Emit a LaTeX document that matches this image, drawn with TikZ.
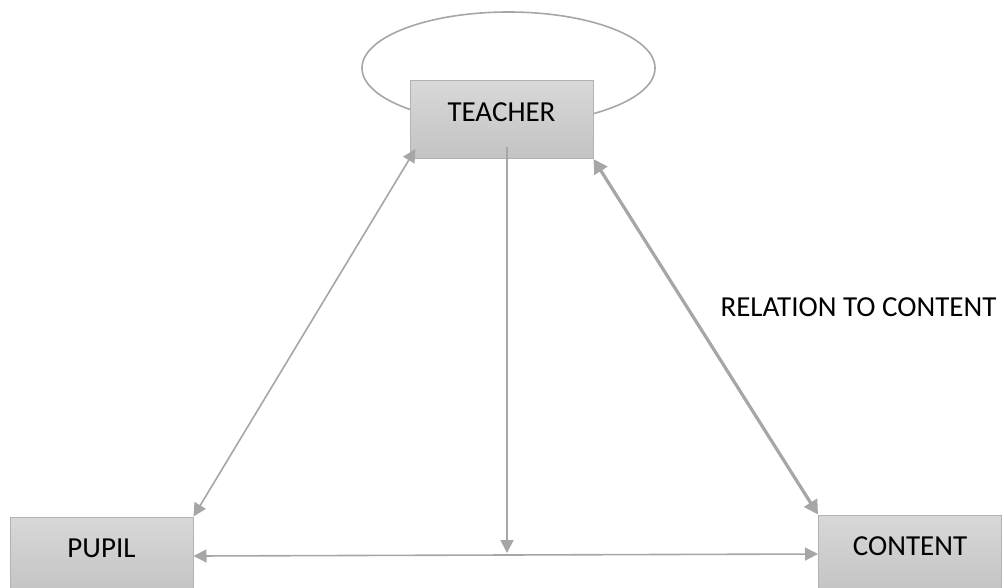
\documentclass[tikz,border=0pt]{standalone}
\usepackage{fontspec}
\setmainfont{Carlito}
\usetikzlibrary{arrows.meta,calc}
\definecolor{lgray}{HTML}{A6A6A6}
\definecolor{bordergray}{HTML}{B2B2B2}
\definecolor{boxtop}{HTML}{D8D8D8}
\definecolor{boxbot}{HTML}{C3C3C3}
\tikzset{
  box/.style={draw=bordergray, line width=1pt, top color=boxtop, bottom color=boxbot,
    minimum width=183pt, minimum height=78pt, inner sep=0pt,
    font=\fontsize{29}{31}\selectfont, text height=19pt, text depth=16pt},
  conn/.style={draw=lgray, line width=1.6pt,
    {Triangle[width=13pt,length=13pt,fill=lgray]}-{Triangle[width=13pt,length=13pt,fill=lgray]}},
  thickconn/.style={draw=lgray, line width=3.2pt,
    {Triangle[width=15pt,length=14pt,fill=lgray]}-{Triangle[width=15pt,length=14pt,fill=lgray]}},
  oneway/.style={draw=lgray, line width=1.6pt, -{Triangle[width=13pt,length=13pt,fill=lgray]}},
  lbl/.style={font=\fontsize{29}{31}\selectfont, inner sep=0pt}
}
\begin{document}
\begin{tikzpicture}[x=1pt,y=-1pt]
\useasboundingbox (0,0) rectangle (1004,587);
% self loop ellipse
\draw[lgray, line width=1.6pt] (508.5,68) ellipse [x radius=146.5, y radius=56];
% boxes
\node[box] (teacher) at (501.5,119.5) {TEACHER};
\node[box] (pupil) at (101.5,556) {PUPIL};
\node[box] (content) at (910,554) {CONTENT};
% connectors
\draw[conn] (pupil.north east) -- ($(teacher.south west)+(6,-10)$);
\draw[thickconn] (teacher.south east) -- (content.north west);
\draw[conn] (pupil.east) -- (content.west);
\coordinate (vtop) at (507,147);
\coordinate (vbot) at (507,553);
\draw[oneway] (vtop) -- (vbot);
% label
\node[lbl] (rel) at (858.5,307.5) {RELATION TO CONTENT};
\end{tikzpicture}
\end{document}
